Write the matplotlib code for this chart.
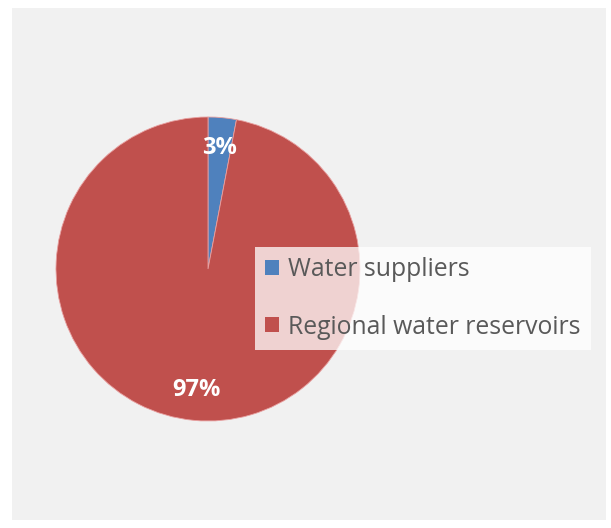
import matplotlib
matplotlib.use("Agg")
import matplotlib.pyplot as plt
from matplotlib.patches import Rectangle

labels = ["Water suppliers", "Regional water reservoirs"]
values = [3, 97]
colors = ["#4f81bd", "#c0504d"]

W, H = 611, 528
fig = plt.figure(figsize=(W / 100, H / 100), dpi=100, facecolor="white")
fig.patches.append(Rectangle((12 / W, 8 / H), 594 / W, 512 / H, transform=fig.transFigure,
                             facecolor="#f1f1f1", edgecolor="none", zorder=-5))

cx, cy, r = 208, 269, 152
ax = fig.add_axes([(cx - r) / W, (H - cy - r) / H, 2 * r / W, 2 * r / H])
ax.set_facecolor("none")
ax.set_zorder(1)
wedges, texts, autotexts = ax.pie(
    values, colors=colors, startangle=90, counterclock=False,
    autopct=lambda p: f"{p:.0f}%", pctdistance=0.8,
    wedgeprops=dict(edgecolor="#e8a0a0", linewidth=0.6),
    textprops=dict(color="white", fontsize=17, fontweight="bold", family="Open Sans"),
)
ax.set_xlim(-1, 1)
ax.set_ylim(-1, 1)
ax.set_aspect("equal")
ax.axis("off")

leg = fig.legend(wedges, labels, loc="upper left",
                 bbox_to_anchor=(255 / W, 1 - 247 / H), bbox_transform=fig.transFigure,
                 frameon=True, fancybox=False, framealpha=0.75, facecolor="white",
                 edgecolor="none", handlelength=0.55, handleheight=0.55, handletextpad=0.35,
                 labelspacing=1.3, borderpad=0.42, borderaxespad=0,
                 prop=dict(family="Open Sans", size=17.8))
leg.set_zorder(5)
for t in leg.get_texts():
    t.set_color("#595959")
for h in leg.legend_handles:
    h.set_edgecolor("none")

fig.savefig("out.png", dpi=100, facecolor="white")
